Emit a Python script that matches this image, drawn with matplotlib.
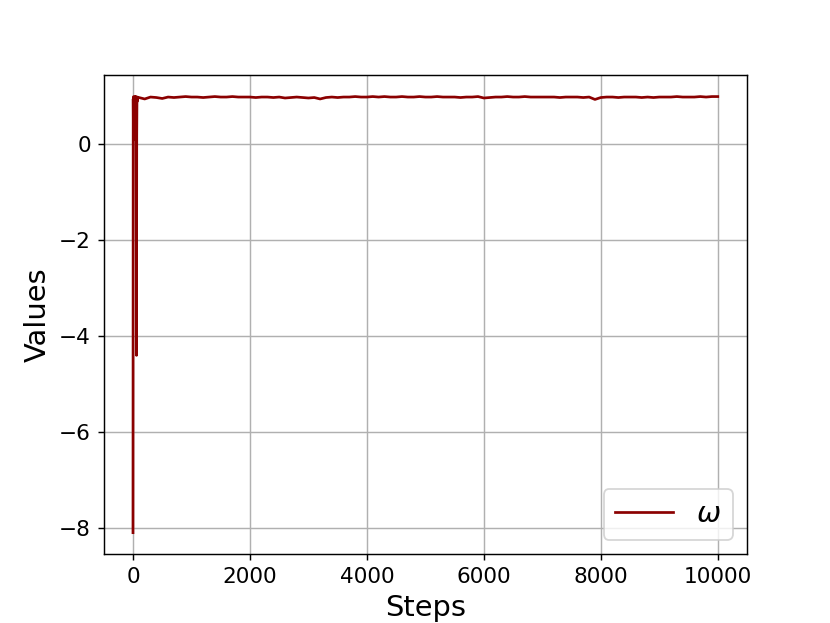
import matplotlib
matplotlib.use("Agg")
import matplotlib.pyplot as plt
import numpy as np

# early transient (steps 0-100)
early_steps = [0, 4, 8, 12, 16, 20, 24, 28, 32, 36, 40, 44, 48, 52, 56, 60, 64, 68, 72, 76, 80, 90]
early_vals = [-8.1, 0.95, 0.2, 1.0, 0.4, 0.98, 0.1, 0.9, 0.6, 1.0, 0.3, 0.95, 0.7, 1.0, -1.5, -4.4, 0.2, 0.95, 0.9, 0.99, 0.97, 0.98]

# settled phase, every 100 steps from 100 to 10000
late_steps = list(range(100, 10001, 100))
late_vals = [
    0.98, 0.95, 0.99, 0.98, 0.96, 0.99, 0.98, 0.99, 1.00, 0.99,
    0.99, 0.98, 0.99, 1.00, 0.99, 0.99, 1.00, 0.99, 0.99, 0.99,
    0.98, 0.99, 0.99, 0.98, 0.99, 0.97, 0.98, 0.99, 0.98, 0.97,
    0.98, 0.95, 0.98, 0.99, 0.98, 0.99, 0.99, 1.00, 0.99, 0.99,
    1.00, 0.99, 1.00, 0.99, 0.99, 1.00, 0.99, 0.99, 1.00, 0.99,
    0.99, 1.00, 0.99, 0.99, 0.99, 0.98, 0.99, 0.99, 1.00, 0.97,
    0.98, 0.99, 0.99, 1.00, 0.99, 0.99, 1.00, 0.99, 0.99, 0.99,
    0.99, 0.99, 0.98, 0.99, 0.99, 0.99, 0.98, 0.99, 0.94, 0.98,
    0.99, 0.99, 0.98, 0.99, 0.99, 0.99, 0.98, 0.99, 0.98, 0.99,
    0.99, 0.99, 1.00, 0.99, 0.99, 0.99, 1.00, 0.99, 1.00, 1.00,
]

steps = np.array(early_steps + late_steps)
omega = np.array(early_vals + late_vals)

fig, ax = plt.subplots(figsize=(830 / 130, 623 / 130), dpi=130)
ax.plot(steps, omega, color='darkred', linewidth=1.5, label=r'$\omega$')
ax.set_xlabel('Steps', fontsize=16)
ax.set_ylabel('Values', fontsize=16)
ax.set_xticks([0, 2000, 4000, 6000, 8000, 10000])
ax.set_yticks([-8, -6, -4, -2, 0])
ax.tick_params(labelsize=12)
ax.grid(True)
ax.legend(loc='lower right', fontsize=16)

plt.savefig('out.png', dpi=130)
